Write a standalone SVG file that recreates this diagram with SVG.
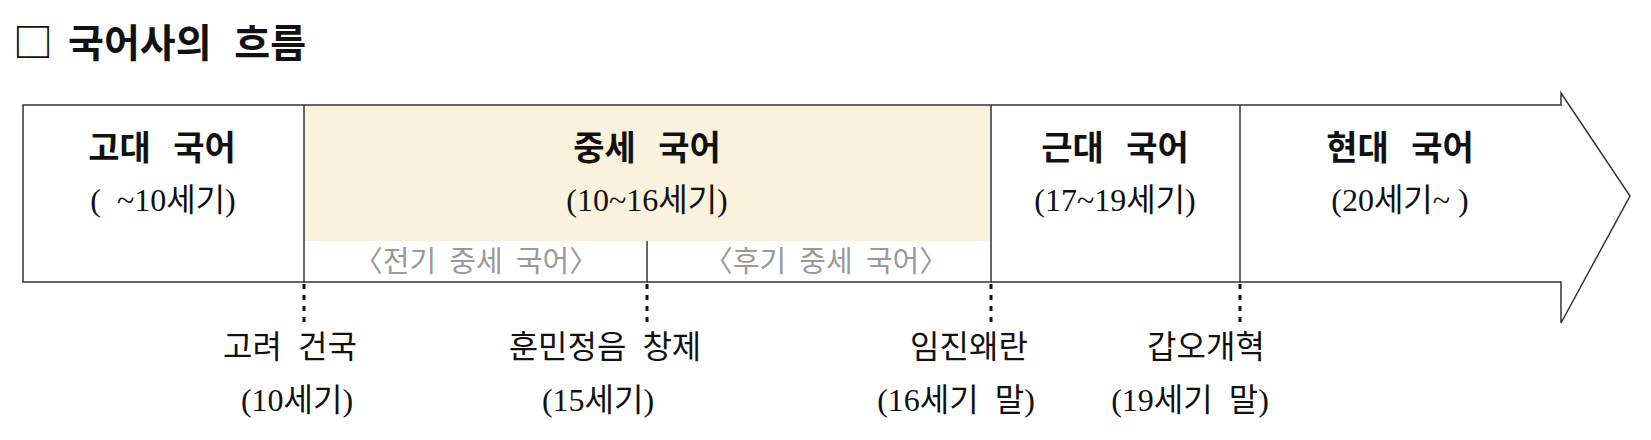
<svg xmlns="http://www.w3.org/2000/svg" width="1651" height="440" viewBox="0 0 1651 440">
<style>
.t{font-family:"Liberation Serif","Noto Sans CJK KR",serif;fill:#111;text-anchor:middle}
.h{font-size:34px;font-weight:bold;word-spacing:14px}
.p{font-size:32px}
.s{font-size:29px;fill:#999;word-spacing:6px}
.e{font-size:32px;word-spacing:8px}
.line{stroke:#333;stroke-width:1.5;fill:none}
.dot{stroke:#111;stroke-width:3;stroke-dasharray:5 6;fill:none}
</style>
<rect width="1651" height="440" fill="#fff"/>
<g id="title">
<text x="13" y="57" style="font-family:'Noto Sans CJK KR',sans-serif;font-size:40px;font-weight:bold;fill:#111">□</text>
<text x="68" y="57" style="font-family:'Noto Sans CJK KR',sans-serif;font-size:39px;font-weight:bold;fill:#111;word-spacing:14px">국어사의 흐름</text>
</g>
<g id="timeline">
<rect x="304" y="105" width="687" height="136" fill="#FAF2DC"/>
<path d="M23,105 H1561 V93 L1630,196 L1561,323 V282 H23 Z" fill="none" stroke="#333" stroke-width="1.5"/>
<line class="line" x1="304" y1="105" x2="304" y2="282"/>
<line class="line" x1="991" y1="105" x2="991" y2="282"/>
<line class="line" x1="1240" y1="105" x2="1240" y2="282"/>
<line class="line" x1="647" y1="241" x2="647" y2="282"/>
</g>
<g id="ancient">
<text class="t h" x="162" y="160">고대 국어</text>
<text class="t p" x="163" y="211" xml:space="preserve">(  ~10세기)</text>
</g>
<g id="middle">
<text class="t h" x="647" y="160">중세 국어</text>
<text class="t p" x="647" y="211">(10~16세기)</text>
<text class="t s" x="476" y="272">〈전기 중세 국어〉</text>
<text class="t s" x="826" y="272">〈후기 중세 국어〉</text>
</g>
<g id="early-modern">
<text class="t h" x="1115" y="160">근대 국어</text>
<text class="t p" x="1115" y="211">(17~19세기)</text>
</g>
<g id="modern">
<text class="t h" x="1400" y="160">현대 국어</text>
<text class="t p" x="1400" y="211" xml:space="preserve">(20세기~ )</text>
</g>
<g id="connectors">
<line class="dot" x1="304" y1="284" x2="304" y2="322"/>
<line class="dot" x1="647" y1="284" x2="647" y2="322"/>
<line class="dot" x1="991" y1="284" x2="991" y2="322"/>
<line class="dot" x1="1240" y1="284" x2="1240" y2="322"/>
</g>
<g id="goryeo">
<text class="t e" x="290" y="358">고려 건국</text>
<text class="t e" x="297" y="411">(10세기)</text>
</g>
<g id="hunmin">
<text class="t e" x="605" y="358">훈민정음 창제</text>
<text class="t e" x="598" y="411">(15세기)</text>
</g>
<g id="imjin">
<text class="t e" x="969" y="358">임진왜란</text>
<text class="t e" x="956" y="411">(16세기 말)</text>
</g>
<g id="gabo">
<text class="t e" x="1206" y="358">갑오개혁</text>
<text class="t e" x="1190" y="411">(19세기 말)</text>
</g>
</svg>
